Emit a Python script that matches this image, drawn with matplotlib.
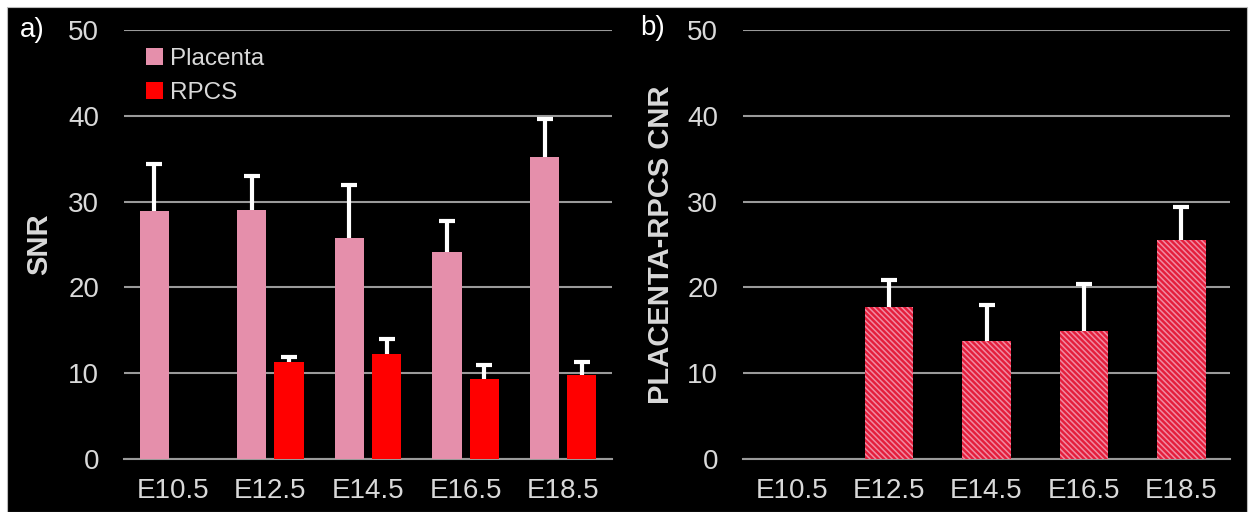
import matplotlib.pyplot as plt
from matplotlib.patches import Rectangle
import numpy as np

plt.rcParams['font.family'] = ['Liberation Sans', 'DejaVu Sans']
plt.rcParams['hatch.linewidth'] = 1.1

stages = ['E10.5', 'E12.5', 'E14.5', 'E16.5', 'E18.5']
placenta_snr = [28.9, 29.0, 25.8, 24.1, 35.2]
placenta_err = [5.5, 4.0, 6.1, 3.6, 4.4]
rpcs_snr = [np.nan, 11.3, 12.2, 9.3, 9.8]
rpcs_err = [0, 0.6, 1.8, 1.6, 1.5]
cnr = [np.nan, 17.7, 13.7, 14.9, 25.5]
cnr_err = [0, 3.2, 4.2, 5.5, 3.9]

pink = '#e58fab'
red = '#ff0000'
txt = '#d9d9d9'
grid = '#9a9a9a'

fig = plt.figure(figsize=(12.53, 5.12), dpi=100, facecolor='white')
bg = Rectangle((7 / 1253, 0), 1240 / 1253, 505 / 512,
               transform=fig.transFigure, facecolor='black',
               edgecolor='#bbbbbb', lw=0.8, zorder=-10)
fig.add_artist(bg)

ax1 = fig.add_axes([124 / 1253, 53 / 512, 488 / 1253, 429 / 512])
ax2 = fig.add_axes([743 / 1253, 53 / 512, 487 / 1253, 429 / 512])

x = np.arange(len(stages))
ebar = dict(ecolor='white', elinewidth=3, capsize=6, capthick=3)


def hide_lower_caps(container):
    # only the upper half of each error bar is shown
    caps = container.errorbar.lines[1]
    if caps:
        caps[0].set_visible(False)


b1 = ax1.bar(x - 0.19, placenta_snr, 0.30, color=pink, label='Placenta', zorder=3,
             yerr=[np.zeros(5), placenta_err], error_kw=ebar)
b2 = ax1.bar(x + 0.19, rpcs_snr, 0.30, color=red, label='RPCS', zorder=3,
             yerr=[np.zeros(5), rpcs_err], error_kw=ebar)
b3 = ax2.bar(x, cnr, 0.5, facecolor='#e41e3c', edgecolor='#f08aa2', linewidth=0,
             hatch='\\\\\\\\\\\\', zorder=3,
             yerr=[np.zeros(5), cnr_err], error_kw=ebar)
for b in (b1, b2, b3):
    hide_lower_caps(b)

for ax in (ax1, ax2):
    ax.set_facecolor('none')
    ax.set_ylim(0, 50)
    ax.set_xlim(-0.5, 4.5)
    ax.set_yticks([0, 10, 20, 30, 40, 50])
    ax.set_xticks(x)
    ax.set_xticklabels(stages)
    ax.yaxis.grid(True, color=grid, lw=1.5, zorder=0)
    for s in ['top', 'right', 'left']:
        ax.spines[s].set_visible(False)
    ax.spines['bottom'].set_color(grid)
    ax.spines['bottom'].set_linewidth(1.5)
    ax.tick_params(axis='y', length=0, pad=18, labelsize=20, labelcolor=txt)
    ax.tick_params(axis='x', length=0, pad=14, labelsize=20, labelcolor=txt)

ax1.set_ylabel('SNR', fontsize=21, fontweight='bold', color=txt, labelpad=11)
ax2.set_ylabel('PLACENTA-RPCS CNR', fontsize=21, fontweight='bold', color=txt, labelpad=9)

leg = ax1.legend(loc='upper left', bbox_to_anchor=(0.0, 1.01), frameon=False,
                 fontsize=17.5, handlelength=0.7, handleheight=0.7,
                 handletextpad=0.3, labelspacing=0.5)
for t in leg.get_texts():
    t.set_color(txt)

fig.text(20 / 1253, 1 - 30 / 512, 'a)', fontsize=20, color='white', va='center')
fig.text(640 / 1253, 1 - 28 / 512, 'b)', fontsize=20, color='white', va='center')

fig.savefig('out.png', dpi=100, facecolor=fig.get_facecolor())
